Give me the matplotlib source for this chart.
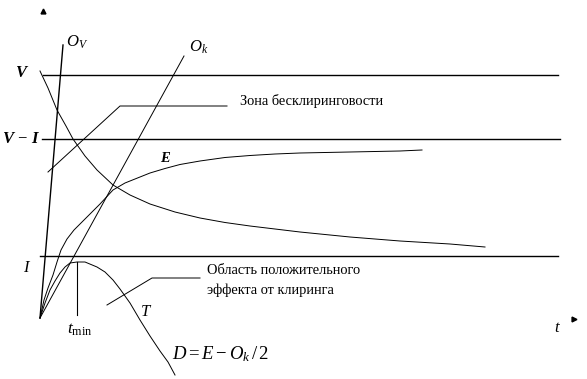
import matplotlib
matplotlib.use('Agg')
import matplotlib.pyplot as plt

plt.rcParams['font.family'] = ['Liberation Serif', 'DejaVu Serif']
plt.rcParams['mathtext.fontset'] = 'custom'
plt.rcParams['mathtext.rm'] = 'Liberation Serif'
plt.rcParams['mathtext.it'] = 'Liberation Serif:italic'
plt.rcParams['mathtext.bf'] = 'Liberation Serif:bold:italic'

# schematic coordinates (image-like units, y grows downward)
origin = (40, 318)

level_names = ['$\\mathbf{V}$', '$\\mathbf{V}\\,-\\,\\mathbf{I}$', '$I$']
level_y = [75, 139, 256]
level_x0 = [43, 42, 40]
level_x1 = [558, 560, 558]
level_label_x = [22, 21, 27]
level_label_y = [73, 139, 268]

# falling curve starting at V
fall_x = [40, 48, 57, 66, 73, 85, 97, 113, 130, 150, 175, 200, 225, 250, 275, 300, 350, 400, 450, 485]
fall_y = [71, 88, 110, 126, 139, 156, 170, 185, 195, 204, 212, 218, 222.5, 226, 229, 232, 237, 241, 244, 247]

# E curve
e_x = [40, 44, 48, 53, 57, 61, 67, 74, 85, 100, 113, 125, 135, 150, 165, 180, 200, 225, 250, 275, 300, 350, 400, 422]
e_y = [318, 300, 288, 275, 262, 250, 239, 230, 219, 204, 190, 183, 179, 173, 168.5, 164.5, 161, 157.5, 155.5, 154, 153, 152, 151, 150]

# D = E - O_k/2 curve
d_x = [40, 45, 50, 55, 60, 65, 70, 77, 85, 97, 105, 113, 120, 130, 140, 150, 160, 168, 175]
d_y = [318, 303, 290, 281, 273, 267, 263, 262, 262, 267, 272, 280, 289, 303, 320, 336, 351, 362, 375]

# straight lines from origin
ov_end = (63, 45)
ok_end = (184, 56)

t_min_x = 77
t_min_top = 262
t_min_bottom = 315

zone_x = [48, 120, 227]
zone_y = [172, 106, 106]
area_x = [107, 152, 200]
area_y = [305, 278, 278]

fig = plt.figure(figsize=(5.87, 3.79), dpi=100)
ax = fig.add_axes([0, 0, 1, 1])
ax.set_xlim(0, 587)
ax.set_ylim(379, 0)
ax.axis('off')

lc = 'black'
for y, x0, x1 in zip(level_y, level_x0, level_x1):
    ax.plot([x0, x1], [y, y], color=lc, lw=1.0)
for name, lx, ly in zip(level_names, level_label_x, level_label_y):
    ax.text(lx, ly, name, fontsize=12, ha='center', va='center')

ax.plot(fall_x, fall_y, color=lc, lw=0.7)
ax.plot(e_x, e_y, color=lc, lw=0.7)
ax.plot(d_x, d_y, color=lc, lw=0.7)
ax.plot([origin[0], ov_end[0]], [origin[1], ov_end[1]], color=lc, lw=1.0)
ax.plot([origin[0], ok_end[0]], [origin[1], ok_end[1]], color=lc, lw=0.7)
ax.plot([t_min_x, t_min_x], [t_min_top, t_min_bottom], color=lc, lw=0.8)
ax.plot(zone_x, zone_y, color=lc, lw=0.7)
ax.plot(area_x, area_y, color=lc, lw=0.7)

# axis arrow tips
ax.plot([43], [11], marker='^', color=lc, markersize=3.5)
ax.plot([574], [319], marker='>', color=lc, markersize=3.5)

ax.text(66, 42, '$O_V$', fontsize=12, ha='left', va='center')
ax.text(189, 47, '$O_k$', fontsize=12, ha='left', va='center')
ax.text(166, 158, '$\\mathbf{E}$', fontsize=10.5, ha='center', va='center')
ax.text(146, 312, '$T$', fontsize=12, ha='center', va='center')
ax.text(80, 330, '$t_{\\mathrm{min}}$', fontsize=12.5, ha='center', va='center')
ax.text(557, 328, '$t$', fontsize=12, ha='center', va='center')
ax.text(172, 354, '$D = E - O_k\\,/\\,2$', fontsize=13.5, ha='left', va='center')

ax.text(240, 101, 'Зона бесклиринговости', fontsize=10.4, ha='left', va='center')
ax.text(207, 271, 'Область положительного', fontsize=10.4, ha='left', va='center')
ax.text(207, 290, 'эффекта от клиринга', fontsize=10.4, ha='left', va='center')

fig.savefig('out.png', dpi=100)
